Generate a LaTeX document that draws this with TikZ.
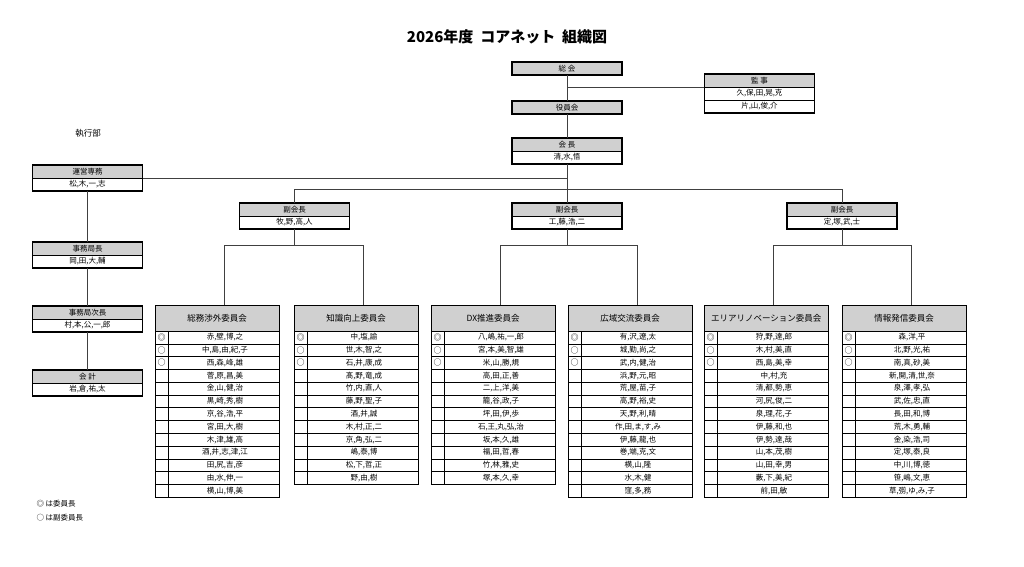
\documentclass[tikz,border=0pt]{standalone}
\usepackage{fontspec}
\setmainfont{Noto Sans CJK JP}
\usetikzlibrary{positioning}
\definecolor{hdgray}{RGB}{208,208,208}
\tikzset{
  ln/.style={draw=black!75, line width=.8pt},
  thd/.style={draw, thin, fill=hdgray, minimum width=110pt, minimum height=13pt, inner sep=0pt, font=\fontsize{7.5}{8}\selectfont},
  tnm/.style={draw, thin, fill=white, minimum width=110pt, minimum height=13pt, inner sep=0pt, font=\fontsize{7.5}{8}\selectfont},
  cmhd/.style={draw, thin, fill=hdgray, minimum width=124pt, minimum height=26pt, inner sep=0pt, font=\fontsize{8.5}{9}\selectfont},
  frame/.style={line width=1.6pt}
}
% spread characters over a fixed width
\newcommand\spread[2]{\makebox[#1]{\foreach \ch [count=\ci] in {#2}{\ifnum\ci>1\hfill\fi\ch}}}
% top box: name, centre x, top y, header, rows, names
\newcommand\tbox[6]{%
  \node[thd] (#1) at (#2,{#3+6.5}) {#4};
  \foreach \row [count=\rw] in {#6}{
    \node[tnm] (#1-\rw) at (#2,{#3+6.5+13*\rw}) {\spread{78pt}{\row}};
  }
  \draw[frame] (#1.north west) rectangle ++(110,{13*(#5+1)});
}
% committee table: name, left x, title, names
\newcommand\cmte[4]{%
  \node[cmhd, anchor=north west] (#1) at (#2,305) {#3};
  \foreach \row [count=\rw] in {#4}{
    \draw[thin] (#2,{331+12.77*(\rw-1)}) rectangle ++(124,12.77);
    \draw[thin] ({#2+13},{331+12.77*(\rw-1)}) -- ++(0,12.77);
    \node[font=\fontsize{8}{8}\selectfont, inner sep=0pt] at ({#2+6.5},{337.4+12.77*(\rw-1)}) {\ifnum\rw=1 ◎\else\ifnum\rw<4 ○\fi\fi};
    \node[font=\fontsize{7.5}{8}\selectfont, inner sep=0pt] at ({#2+70},{337.4+12.77*(\rw-1)}) {\spread{81pt}{\row}};
  }
}

\begin{document}
\begin{tikzpicture}[x=1pt, y=-1pt]
  \useasboundingbox (0,0) rectangle (1024,566);

  \node[font=\fontsize{15}{16}\selectfont\bfseries] (title) at (507,37) {2026年度\ \ コアネット\ \ 組織図};
  \node[font=\fontsize{8.5}{9}\selectfont] (shikko) at (88,133) {執行部};

  % top
  \tbox{soukai}{567}{62}{総\ 会}{0}{}
  \tbox{yakuin}{567}{101}{役員会}{0}{}
  \tbox{kanji}{759.5}{74}{監\ 事}{2}{{久,保,田,晃,克},{片,山,俊,介}}
  \tbox{kaicho}{567}{138}{会\ 長}{1}{{清,水,悟}}

  % vice presidents
  \tbox{fuku1}{294.5}{203}{副会長}{1}{{牧,野,高,人}}
  \tbox{fuku2}{567}{203}{副会長}{1}{{工,藤,浩,二}}
  \tbox{fuku3}{842}{203}{副会長}{1}{{定,塚,武,士}}

  % executive
  \tbox{unei}{87.5}{165}{運営専務}{1}{{松,木,一,志}}
  \tbox{jimu}{87.5}{242}{事務局長}{1}{{岡,田,大,輔}}
  \tbox{jimuji}{87.5}{306}{事務局次長}{1}{{村,本,公,一,郎}}
  \tbox{kaikei}{87.5}{370}{会\ 計}{1}{{岩,倉,祐,太}}

  % committees
  \cmte{cm1}{155}{総務渉外委員会}{{赤,壁,博,之},{中,島,由,紀,子},{西,森,峰,雄},{菅,原,昌,美},{金,山,健,治},{黒,崎,秀,樹},{京,谷,浩,平},{宮,田,大,樹},{木,津,雄,高},{酒,井,志,津,江},{田,尻,吉,彦},{由,水,伸,一},{横,山,博,美}}
  \cmte{cm2}{294}{知識向上委員会}{{中,塩,諭},{世,木,智,之},{石,井,康,成},{髙,野,竜,成},{竹,内,直,人},{藤,野,聖,子},{酒,井,誠},{木,村,正,二},{京,角,弘,二},{嶋,泰,博},{松,下,哲,正},{野,由,樹}}
  \cmte{cm3}{431}{DX推進委員会}{{八,嶋,祐,一,郎},{宮,本,美,智,雄},{米,山,勝,規},{高,田,正,善},{二,上,洋,美},{籠,谷,政,子},{坪,田,伊,歩},{石,王,丸,弘,治},{坂,本,久,雄},{福,田,哲,春},{竹,林,雅,史},{塚,本,久,幸}}
  \cmte{cm4}{568}{広域交流委員会}{{有,沢,遼,太},{城,勤,尚,之},{武,内,健,治},{浜,野,元,昭},{荒,屋,苗,子},{高,野,裕,史},{天,野,利,晴},{作,田,ま,す,み},{伊,藤,龍,也},{巻,端,克,文},{横,山,隆},{水,木,健},{窪,多,務}}
  \cmte{cm5}{704}{エリアリノベーション委員会}{{狩,野,達,郎},{木,村,美,直},{西,島,美,幸},{中,村,充},{清,都,勢,恵},{河,尻,俊,二},{泉,理,花,子},{伊,藤,和,也},{伊,勢,達,哉},{山,本,茂,樹},{山,田,幸,男},{藪,下,美,紀},{前,田,敏}}
  \cmte{cm6}{842}{情報発信委員会}{{森,洋,平},{北,野,光,祐},{南,真,砂,美},{新,開,清,世,奈},{泉,澤,孝,弘},{武,佐,忠,直},{長,田,和,博},{荒,木,勇,輔},{金,染,浩,司},{定,塚,泰,良},{中,川,博,徳},{笹,嶋,文,恵},{草,彅,ゆ,み,子}}

  % connectors
  \draw[ln] (soukai.south) -- (yakuin.north);
  \draw[ln] (kanji.south west) -- (kanji.south west -| soukai.south);
  \draw[ln] (yakuin.south) -- (kaicho.north);
  \draw[ln] (kaicho-1.south) -- (fuku2.north);
  \draw[ln] (unei.south east) -- (unei.south east -| kaicho.south);
  \draw[ln] (fuku1.north) -- ++(0,-13) -| (fuku3.north);
  \draw[ln] (unei-1.south) -- (jimu.north);
  \draw[ln] (jimu-1.south) -- (jimuji.north);
  \draw[ln] (jimuji-1.south) -- (kaikei.north);
  \draw[ln] (fuku1-1.south) -- ++(0,16) coordinate (b1);
  \draw[ln] ([xshift=7pt]cm1.north) |- (b1) -| ([xshift=7pt]cm2.north);
  \draw[ln] (fuku2-1.south) -- ++(0,16) coordinate (b2);
  \draw[ln] ([xshift=7pt]cm3.north) |- (b2) -| ([xshift=7pt]cm4.north);
  \draw[ln] (fuku3-1.south) -- ++(0,16) coordinate (b3);
  \draw[ln] ([xshift=7pt]cm5.north) |- (b3) -| ([xshift=7pt]cm6.north);

  % legend
  \node[font=\fontsize{7.5}{8}\selectfont, anchor=west] (lg1) at (33,504) {◎ は委員長};
  \node[font=\fontsize{7.5}{8}\selectfont, anchor=west] (lg2) at (33,518) {○ は副委員長};
\end{tikzpicture}
\end{document}
